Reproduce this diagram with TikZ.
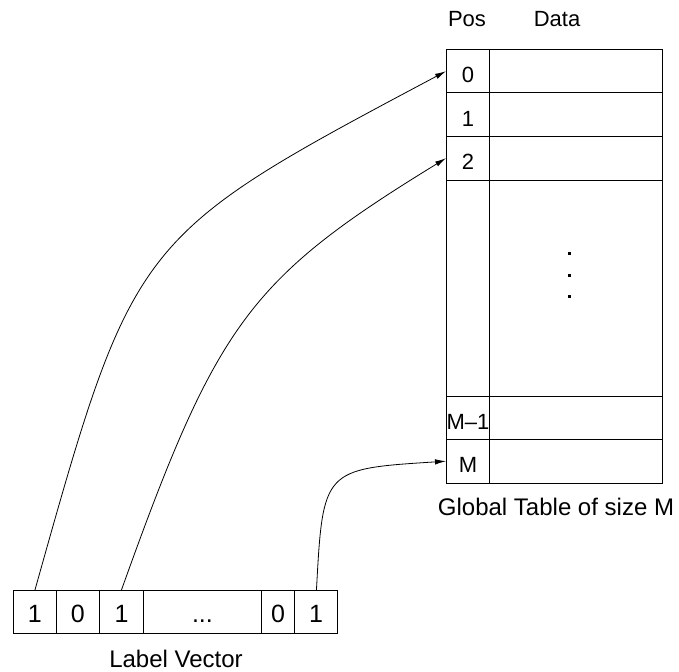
\documentclass[tikz,border=0pt]{standalone}
\usepackage{fontspec}
\setmainfont{Liberation Sans}
\usetikzlibrary{arrows.meta}
\begin{document}
\begin{tikzpicture}[x=1pt,y=-1pt,
  cellbox/.style={draw, line width=0.9pt, inner sep=0pt, anchor=north west},
  tcell/.style={cellbox, minimum width=43pt, minimum height=43.5pt, font=\fontsize{22}{22}\selectfont, text height=23pt, text depth=0pt},
  dcell/.style={cellbox, minimum width=173pt, minimum height=43.5pt},
  vcell/.style={cellbox, minimum height=43pt, font=\fontsize{25}{25}\selectfont, text height=22pt, text depth=0pt},
  conn/.style={line width=0.8pt, -{Latex[length=11pt,width=5.5pt]}},
  lbl/.style={font=\fontsize{22}{22}\selectfont, anchor=base, inner sep=0pt},
  captext/.style={font=\fontsize{24}{24}\selectfont, anchor=base, inner sep=0pt}
]
\useasboundingbox (0,0) rectangle (679,671);
% headers
\node[lbl] (hpos) at (467,27) {Pos};
\node[lbl] (hdata) at (557,27) {Data};
% table pos column
\node[tcell] (p0) at (446,49) {0};
\node[tcell] (p1) at (446,92.5) {1};
\node[tcell] (p2) at (446,136) {2};
\node[tcell, minimum height=216pt] (pmid) at (446,179.5) {};
\node[tcell] (pm1) at (446,395.5) {M–1};
\node[tcell] (pm) at (446,439) {M};
% data column
\node[dcell] (d0) at (489,49) {};
\node[dcell] (d1) at (489,92.5) {};
\node[dcell] (d2) at (489,136) {};
\node[dcell, minimum height=216pt] (dmid) at (489,179.5) {};
\node[dcell] (dm1) at (489,395.5) {};
\node[dcell] (dm) at (489,439) {};
% vertical dots
\foreach \yy in {253,275,296} \fill (567.5,\yy-1.5) rectangle (570.5,\yy+1.5);
\node[captext] (gcap) at (556,515) {Global Table of size M};
% label vector
\node[vcell, minimum width=43pt] (v1) at (13,590) {1};
\node[vcell, minimum width=43pt] (v2) at (56,590) {0};
\node[vcell, minimum width=44pt] (v3) at (99,590) {1};
\node[vcell, minimum width=118pt] (v4) at (143,590) {...};
\node[vcell, minimum width=33pt] (v5) at (261,590) {0};
\node[vcell, minimum width=43pt] (v6) at (294,590) {1};
\node[captext] (vcap) at (176,667) {Label Vector};
% connectors
\coordinate (s1) at (v1.north);
\coordinate (s2) at (v3.north);
\coordinate (s3) at ([xshift=0.5pt]v6.north);
\draw[conn] (s1) .. controls (134,237) and (134,237) .. (p0.west);
\draw[conn] (s2) .. controls (217,323) and (249,279) .. (p2.west);
\draw[conn] (s3) .. controls (323,469) and (323,469) .. (pm.west);
\end{tikzpicture}
\end{document}
